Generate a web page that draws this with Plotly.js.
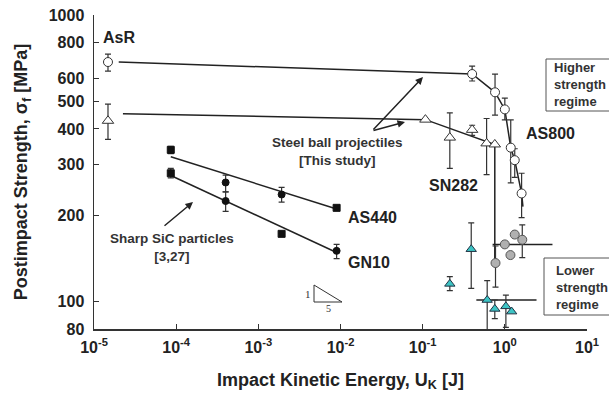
<!DOCTYPE html>
<html>
<head>
<meta charset="utf-8">
<script src="https://cdn.plot.ly/plotly-3.0.1.min.js"></script>
<style>html,body{margin:0;padding:0;background:#fff}#chart{width:609px;height:401px}</style>
</head>
<body>
<div id="chart"></div>
<script>
// ---- data ----
const as800X = [1.48e-5, 0.40, 0.76, 1.0, 1.18, 1.32, 1.6];
const as800Y = [685, 622, 537, 468, 344, 311, 238];
const as800Plus = [45, 41, 85, 44, 86, 30, 42];
const as800Minus = [48, 34, 90, 38, 85, 40, 42];
const as800FitX = [2.0e-5, 0.40, 0.76, 1.0, 1.18, 1.32, 1.6, 1.66];
const as800FitY = [685, 622, 537, 468, 344, 311, 238, 214];

const sn282X = [1.48e-5, 0.108, 0.214, 0.40, 0.60, 0.755];
const sn282Y = [427, 431, 373, 397, 356, 353];
const sn282Plus = [61, 0, 82, 15, 79, 0];
const sn282Minus = [59, 0, 82, 17, 79, 0];
const sn282FitX = [2.25e-5, 0.108, 0.755, 0.755];
const sn282FitY = [452, 431, 353, 140];

const greyX = [0.77, 1.0, 1.17, 1.32, 1.63];
const greyY = [136, 158, 145, 171, 164];
const greyPlus = [20, 0, 0, 0, 21];
const greyMinus = [24, 0, 0, 0, 22];
const greyXPlus = [0, 2.8, 0, 0, 0];
const greyXMinus = [0, 0.29, 0, 0, 0];

const cyanX = [0.214, 0.39, 0.61, 0.755, 1.03, 1.21];
const cyanY = [115, 152, 101, 94, 96, 92];
const cyanPlus = [7, 36, 17, 7, 9, 0];
const cyanMinus = [6, 41, 25, 7, 15, 0];
const cyanXPlus = [0, 0, 1.82, 0, 0, 0];
const cyanXMinus = [0, 0, 0.16, 0, 0, 0];

const sicX = [8.6e-5, 4.0e-4, 1.92e-3, 8.97e-3];
const as440Y = [338, 260, 236, 212];
const as440Plus = [10, 16, 14, 0];
const as440Minus = [10, 19, 14, 0];
const as440Sym = ['square', 'circle', 'circle', 'square'];
const as440FitX = [8.6e-5, 8.97e-3];
const as440FitY = [320, 210];

const gn10Y = [280, 224, 172, 150];
const gn10Plus = [11, 17, 0, 8];
const gn10Minus = [10, 18, 0, 9];
const gn10Sym = ['square', 'circle', 'square', 'circle'];
const gn10FitX = [8.6e-5, 8.97e-3];
const gn10FitY = [275, 148];

const xTickVals = [1e-5, 1e-4, 1e-3, 1e-2, 1e-1, 1, 10];
const xTickText = ['10<sup>-5</sup>', '10<sup>-4</sup>', '10<sup>-3</sup>', '10<sup>-2</sup>', '10<sup>-1</sup>', '10<sup>0</sup>', '10<sup>1</sup>'];
const yTickVals = [80, 100, 200, 300, 400, 500, 600, 800, 1000];
const yTickText = ['80', '100', '200', '300', '400', '500', '600', '800', '1000'];

// ---- layout helpers (pixel -> paper) ----
const L = 94, R = 587, T = 15, B = 329;
const px = v => (v - L) / (R - L);
const py = v => (B - v) / (B - T);

const INK = '#222';
const FONT = 'Arial, "Liberation Sans", Helvetica, sans-serif';

function eb(plus, minus) {
  return {type: 'data', symmetric: false, array: plus, arrayminus: minus,
          color: '#333', thickness: 1.2, width: 3};
}
function ebx(plus, minus) {
  return {type: 'data', symmetric: false, array: plus, arrayminus: minus,
          color: '#222', thickness: 1.5, width: 0};
}
const lineStyle = {color: INK, width: 1.5};

const traces = [
  {x: as800FitX, y: as800FitY, mode: 'lines', line: lineStyle, hoverinfo: 'skip'},
  {x: sn282FitX, y: sn282FitY, mode: 'lines', line: lineStyle, hoverinfo: 'skip'},
  {x: as440FitX, y: as440FitY, mode: 'lines', line: lineStyle, hoverinfo: 'skip'},
  {x: gn10FitX, y: gn10FitY, mode: 'lines', line: lineStyle, hoverinfo: 'skip'},
  {x: greyX, y: greyY, mode: 'markers', error_y: eb(greyPlus, greyMinus), error_x: ebx(greyXPlus, greyXMinus),
   marker: {symbol: 'circle', size: 9, color: '#b0b0b0', line: {color: '#555', width: 1}}},
  {x: cyanX, y: cyanY, mode: 'markers', error_y: eb(cyanPlus, cyanMinus), error_x: ebx(cyanXPlus, cyanXMinus),
   marker: {symbol: 'triangle-up', size: 9, color: '#3cc4c4', line: {color: '#234', width: 1}}},
  {x: as800X, y: as800Y, mode: 'markers', error_y: eb(as800Plus, as800Minus),
   marker: {symbol: 'circle', size: 9, color: '#fff', line: {color: '#333', width: 1}}},
  {x: sn282X, y: sn282Y, mode: 'markers', error_y: eb(sn282Plus, sn282Minus),
   marker: {symbol: 'triangle-up', size: 10, color: '#fff', line: {color: '#333', width: 1}}},
  {x: sicX, y: as440Y, mode: 'markers', error_y: eb(as440Plus, as440Minus),
   marker: {symbol: as440Sym, size: 7, color: '#111', line: {color: '#111', width: 1}}},
  {x: sicX, y: gn10Y, mode: 'markers', error_y: eb(gn10Plus, gn10Minus),
   marker: {symbol: gn10Sym, size: 7, color: '#111', line: {color: '#111', width: 1}}}
];

function txt(text, x, y, size, xanchor, color, family) {
  return {xref: 'paper', yref: 'paper', x: px(x), y: py(y), text: text,
    showarrow: false, xanchor: xanchor || 'center', yanchor: 'middle', align: xanchor === 'left' ? 'left' : 'center',
    font: {family: family || FONT, size: size, color: color || INK}};
}
function arrow(hx, hy, tx, ty) {
  return {xref: 'paper', yref: 'paper', x: px(hx), y: py(hy), ax: tx - hx, ay: ty - hy,
    text: '', showarrow: true, arrowhead: 2, arrowsize: 1, arrowwidth: 1.5, arrowcolor: INK};
}
const SERIF = '"Liberation Serif", "DejaVu Serif", serif';

const annotations = [
  txt('<b>AsR</b>', 101, 37, 16, 'left'),
  txt('<b>AS800</b>', 550, 133, 16),
  txt('<b>SN282</b>', 453, 185, 16),
  txt('<b>AS440</b>', 346, 217, 16, 'left'),
  txt('<b>GN10</b>', 346, 262, 16, 'left'),
  txt('<b>Sharp SiC particles<br>[3,27]</b>', 172, 248, 13.5, 'center', '#333'),
  txt('<b>Steel ball projectiles<br>[This study]</b>', 337, 151, 13.5, 'center', '#333'),
  txt('<b>Higher<br>strength<br>regime</b>', 552, 85, 13, 'left', '#333'),
  txt('<b>Lower<br>strength<br>regime</b>', 554, 287, 13, 'left', '#333'),
  txt('1', 308, 294, 11, 'center', '#333', SERIF),
  txt('5', 328, 308, 10, 'center', '#333', SERIF),
  arrow(423, 77, 372, 131),
  arrow(405, 122, 372, 131),
  arrow(193, 202, 163, 227)
];

function seg(x0, y0, x1, y1, c, w) {
  return {type: 'line', xref: 'paper', yref: 'paper', x0: px(x0), y0: py(y0), x1: px(x1), y1: py(y1),
          line: {color: c || '#333', width: w || 1}};
}
function box(x0, y0, x1, y1) {
  return {type: 'rect', xref: 'paper', yref: 'paper', x0: px(x0), y0: py(y0), x1: px(x1), y1: py(y1),
          line: {color: '#555', width: 1}, fillcolor: 'rgba(0,0,0,0)'};
}
const shapes = [
  box(546, 59, 614, 111),
  box(544, 258, 614, 315),
  seg(314, 285, 314, 302),
  seg(314, 302, 342, 302),
  seg(314, 285, 342, 302)
];

const layout = {
  width: 609, height: 401,
  margin: {l: L, r: 609 - R, t: T, b: 401 - B, pad: 0},
  paper_bgcolor: '#fff', plot_bgcolor: '#fff',
  showlegend: false,
  font: {family: FONT, color: INK},
  xaxis: {
    type: 'log', range: [-5, 1], tickvals: xTickVals, ticktext: xTickText,
    ticks: 'inside', ticklen: 5, tickwidth: 1, tickcolor: '#333', ticklabelstandoff: 3,
    showline: true, linecolor: '#333', linewidth: 1.5, showgrid: false, zeroline: false, mirror: false,
    tickfont: {family: FONT, size: 16, color: INK, weight: 'bold'},
    title: {text: '<b>Impact Kinetic Energy, U<sub>K</sub> [J]</b>', font: {family: FONT, size: 18, color: INK}, standoff: 18},
    automargin: false
  },
  yaxis: {
    type: 'log', range: [Math.log10(80), 3], tickvals: yTickVals, ticktext: yTickText,
    ticks: 'inside', ticklen: 5, tickwidth: 1, tickcolor: '#333', ticklabelstandoff: 5,
    showline: true, linecolor: '#333', linewidth: 1.5, showgrid: false, zeroline: false, mirror: false,
    tickfont: {family: FONT, size: 16, color: INK, weight: 'bold'},
    title: {text: '<b>Postimpact Strength, σ<sub>f</sub> [MPa]</b>', font: {family: FONT, size: 18, color: INK}, standoff: 16},
    automargin: false
  },
  annotations: annotations,
  shapes: shapes
};

Plotly.newPlot('chart', traces, layout, {displayModeBar: false, staticPlot: true});
</script>
</body>
</html>
